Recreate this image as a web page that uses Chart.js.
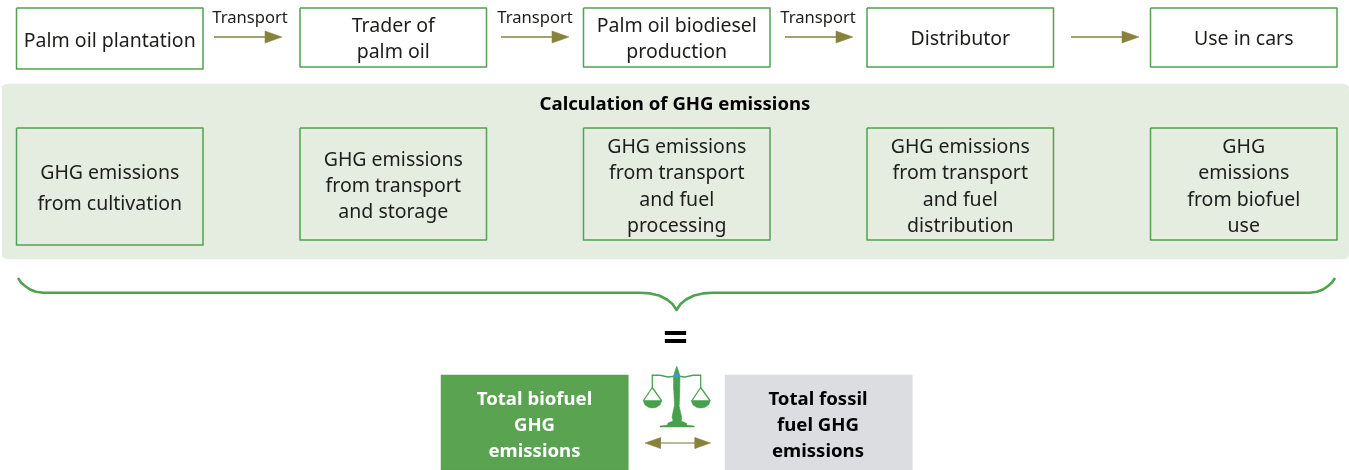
<!DOCTYPE html>
<html>
<head>
<meta charset="utf-8">
<script src="https://cdn.jsdelivr.net/npm/chart.js@4"></script>
<style>
  html, body { margin: 0; padding: 0; background: #fff; }
  canvas { display: block; }
</style>
</head>
<body>
<canvas id="grafica" width="1349" height="470"></canvas>
<script>
// Textos del diagrama
const processSteps = [['Palm oil plantation'], ['Trader of', 'palm oil'], ['Palm oil biodiesel', 'production'], ['Distributor'], ['Use in cars']];
const emissionSteps = [
    ['GHG emissions', 'from cultivation'],
    ['GHG emissions', 'from transport', 'and storage'],
    ['GHG emissions', 'from transport', 'and fuel', 'processing'],
    ['GHG emissions', 'from transport', 'and fuel', 'distribution'],
    ['GHG', 'emissions', 'from biofuel', 'use']
];
const transportLabels = ['Transport', 'Transport', 'Transport'];
const panelTitle = 'Calculation of GHG emissions';
const equalsSign = '=';
const biofuelTotal = ['Total biofuel', 'GHG', 'emissions'];
const fossilTotal = ['Total fossil', 'fuel GHG', 'emissions'];

// Geometria (px del lienzo, ejes ocultos 0-1349 y 0-470)
const colLeft = [16.5, 300, 583.5, 867, 1150.5];
const colWidth = 186.5;
const processBottom = [69, 67, 67, 67, 67];
const processTextY = [41, 39.5, 39.5, 39.5, 39.5];
const emissionBottom = [245, 240, 240, 240, 240];
const emissionTextY = [189, 186.5, 187, 187, 187];
const arrowLeft = [214, 501, 785, 1071];
const transportX = [250, 535, 818];

const GREEN = '#4fa350';
const OLIVE = '#86823c';
const FONT = '"Noto Sans", sans-serif';

const datasets = [];

function trazo(points, color, width) {
    datasets.push({ data: points.map(p => ({ x: p[0], y: p[1] })), showLine: true, pointRadius: 0, borderColor: color, borderWidth: width, fill: false, clip: false, order: -datasets.length, borderJoinStyle: 'round' });
}
function relleno(points, color) {
    datasets.push({ data: points.map(p => ({ x: p[0], y: p[1] })), showLine: true, pointRadius: 0, borderColor: color, borderWidth: 0.5, backgroundColor: color, fill: 'shape', clip: false, order: -datasets.length });
}
function caja(x0, y0, x1, y1) {
    trazo([[x0, y0], [x1, y0], [x1, y1], [x0, y1], [x0, y0]], GREEN, 1.5);
}

// Panel de fondo con esquinas redondeadas
relleno([
    [10, 84], [1341, 84], [1346, 84.6], [1348.4, 86.4], [1349, 92],
    [1349, 251], [1348.4, 256.6], [1346, 258.4], [1341, 259],
    [10, 259], [5, 258.4], [2.6, 256.6], [2, 251],
    [2, 92], [2.6, 86.4], [5, 84.6], [10, 84]
], '#e5ece0');

colLeft.forEach((x, i) => {
    caja(x, 8, x + colWidth, processBottom[i]);
    caja(x, 128, x + colWidth, emissionBottom[i]);
});

// Flechas del proceso
arrowLeft.forEach(x => {
    trazo([[x, 37], [x + 52, 37]], OLIVE, 1.5);
    relleno([[x + 51, 31], [x + 68, 37], [x + 51, 43], [x + 51, 31]], OLIVE);
});

// Llave
trazo([
    [18, 278], [21, 282.5], [25, 286], [30, 289.5], [36, 291.8], [43, 292.8],
    [640, 292.8], [650, 293.4], [659, 295.5], [667, 299.5], [672.5, 304], [676.5, 310],
    [680.5, 304], [686, 299.5], [694, 295.5], [703, 293.4], [713, 292.8],
    [1310, 292.8], [1317, 291.8], [1323, 289.5], [1328, 286], [1332, 282.5], [1335, 278]
], GREEN, 2.6);

// Cajas de totales
relleno([[441, 375], [628, 375], [628, 470], [441, 470], [441, 375]], '#5aa351');
relleno([[725, 375], [912, 375], [912, 470], [725, 470], [725, 375]], '#dcdde0');

// Balanza
relleno([
    [676.7, 366], [678.5, 371], [680, 376], [679.8, 390], [679, 405], [680.5, 412], [681.7, 417], [681, 421],
    [686, 423], [686.5, 425], [694, 426], [694, 427], [660, 427], [660, 426], [667.5, 425], [668, 423],
    [673, 421], [672, 417], [673, 412], [674.5, 405], [673.7, 390], [673.5, 376], [675, 371], [676.7, 366]
], '#46a04c');
trazo([[651.7, 375.3], [660, 375.3], [668, 377], [676.7, 376], [685, 377], [693, 375.3], [701, 375.3]], GREEN, 1.5);
trazo([[652.3, 375.3], [652.3, 387.5]], GREEN, 1.3);
trazo([[700.7, 375.3], [700.7, 387.5]], GREEN, 1.3);
trazo([[643.5, 400.5], [652.3, 387.5], [661.5, 400.5]], GREEN, 1.3);
trazo([[692, 400.5], [700.7, 387.5], [710, 400.5]], GREEN, 1.3);
relleno([[643, 400.5], [662, 400.5], [660, 405], [656, 407.5], [652.5, 408], [649, 407.5], [645, 405], [643, 400.5]], '#46a04c');
relleno([[691, 400.5], [710.5, 400.5], [708.5, 405], [704.5, 407.5], [700.7, 408], [697, 407.5], [693, 405], [691, 400.5]], '#46a04c');
datasets.push({ data: [{ x: 676.7, y: 375.5 }], pointRadius: 2.6, pointBackgroundColor: '#2a9fd6', pointBorderWidth: 0, order: -datasets.length });

// Flecha doble
trazo([[655, 443], [700, 443]], '#a5a36c', 1.6);
relleno([[645, 443], [660.5, 437.5], [660.5, 448.5], [645, 443]], OLIVE);
relleno([[710.5, 443], [695, 437.5], [695, 448.5], [710.5, 443]], OLIVE);

// Todo el texto se coloca con las escalas del grafico
const textos = {
    id: 'textos',
    afterDatasetsDraw(chart) {
        const { ctx, scales } = chart;
        function bloque(lines, cx, cy, font, color, lh) {
            ctx.save();
            ctx.font = font;
            ctx.fillStyle = color;
            ctx.textAlign = 'center';
            ctx.textBaseline = 'middle';
            const alto = lh * (lines.length - 1);
            lines.forEach((l, i) => {
                ctx.fillText(l, scales.x.getPixelForValue(cx), scales.y.getPixelForValue(cy - alto / 2 + i * lh));
            });
            ctx.restore();
        }
        const normal = '19.5px ' + FONT;
        const negrita = 'bold 18.6px ' + FONT;
        const negro = '#1d1d1b';
        colLeft.forEach((x, i) => {
            const cx = x + colWidth / 2;
            bloque(processSteps[i], cx, processTextY[i], normal, negro, 26);
            bloque(emissionSteps[i], cx, emissionTextY[i], normal, negro, i === 0 ? 31 : 26.3);
        });
        transportLabels.forEach((t, i) => bloque([t], transportX[i], 18, '16.6px ' + FONT, negro, 0));
        bloque([panelTitle], 675, 104.5, negrita, '#000', 0);
        bloque([equalsSign], 675.5, 339.5, 'bold 34px "DejaVu Sans"', '#000', 0);
        bloque(biofuelTotal, 534.5, 425.5, negrita, '#fff', 26);
        bloque(fossilTotal, 818, 425.5, negrita, '#000', 26);
    }
};

new Chart(document.getElementById('grafica'), {
    type: 'scatter',
    data: { datasets },
    options: {
        responsive: false,
        animation: false,
        layout: { padding: 0, autoPadding: false },
        plugins: { legend: { display: false }, tooltip: { enabled: false } },
        scales: {
            x: { type: 'linear', display: false, min: 0, max: 1349 },
            y: { type: 'linear', display: false, min: 0, max: 470, reverse: true }
        }
    },
    plugins: [textos]
});
</script>
</body>
</html>
